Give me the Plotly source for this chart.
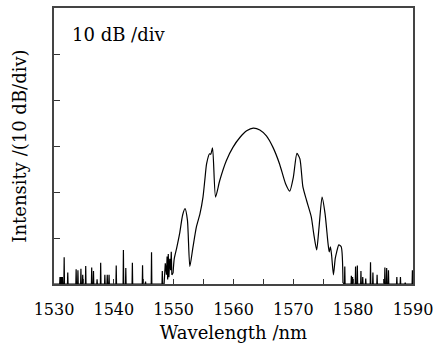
import plotly.graph_objects as go

# Noise spikes (wavelength nm, height in divs) - left side
noise_left_wl = [1531.0, 1531.2, 1531.4, 1531.7, 1532.3, 1533.7, 1534.0, 1534.5, 1534.8, 1535.3,
                 1536.3, 1536.6, 1537.2, 1537.8, 1538.5, 1538.9, 1539.2, 1540.4, 1541.6, 1542.0,
                 1543.1, 1544.8, 1545.3, 1546.3, 1548.1]
noise_left_h = [0.15, 0.15, 0.15, 0.58, 0.25, 0.32, 0.30, 0.33, 0.20, 0.39,
                0.36, 0.28, 0.10, 0.46, 0.20, 0.20, 0.20, 0.40, 0.74, 0.35,
                0.46, 0.41, 0.05, 0.69, 0.28]

# Noisy rising edge before the main curve
edge_wl = [1548.4, 1548.6, 1548.8, 1548.9, 1549.0, 1549.1, 1549.2, 1549.35, 1549.5, 1549.6, 1549.7]
edge_y = [0.0, 0.45, 0.2, 0.6, 0.1, 0.65, 0.15, 0.55, 0.3, 0.7, 0.2]

# Main spectrum curve (wavelength nm, intensity in divs)
main_wl = [1549.9, 1550.1, 1550.5, 1551.0, 1551.5, 1551.9, 1552.3, 1552.7, 1553.2, 1553.8,
           1554.4, 1554.9, 1555.2, 1555.5, 1556.0, 1556.2, 1556.5, 1557.0, 1557.7, 1558.8,
           1559.9, 1561.1, 1562.2, 1563.3, 1564.4, 1565.5, 1566.6, 1567.7, 1568.7, 1569.4,
           1570.0, 1570.6, 1571.1, 1571.6, 1572.2, 1573.0, 1573.4, 1573.9, 1574.3, 1574.8,
           1575.3, 1575.8, 1576.0, 1576.2, 1576.4, 1576.7, 1577.0, 1577.2, 1577.6, 1578.0,
           1578.3]
main_y = [0.24, 0.55, 0.78, 1.10, 1.50, 1.64, 1.39, 0.38, 0.78, 1.24,
          1.53, 1.89, 2.25, 2.61, 2.83, 2.82, 2.96, 1.89, 2.25, 2.68,
          2.97, 3.19, 3.33, 3.39, 3.35, 3.22, 2.97, 2.61, 2.18, 2.02,
          2.32, 2.84, 2.72, 2.11, 1.82, 1.46, 1.10, 0.74, 1.24, 1.89,
          1.53, 0.88, 0.70, 0.81, 0.62, 0.20, 0.55, 0.67, 0.85, 0.81,
          0.02]

# Noise spikes - right side
noise_right_wl = [1578.6, 1579.7, 1579.9, 1580.4, 1580.7, 1581.3, 1581.6, 1582.1, 1582.9, 1583.3,
                  1584.0, 1585.3, 1585.6, 1585.9, 1587.3, 1587.9, 1588.7, 1589.9]
noise_right_h = [0.38, 0.18, 0.15, 0.38, 0.40, 0.28, 0.15, 0.12, 0.47, 0.25,
                 0.20, 0.36, 0.35, 0.30, 0.15, 0.15, 0.03, 0.30]

x_ticks = [1530, 1540, 1550, 1560, 1570, 1580, 1590]


def spikes(wl, h):
    xs, ys = [], []
    for w, v in zip(wl, h):
        xs += [w - 0.05, w, w + 0.05]
        ys += [0.0, v, 0.0]
    return xs, ys


lx, ly = spikes(noise_left_wl, noise_left_h)
rx, ry = spikes(noise_right_wl, noise_right_h)
nx = [1530.0] + lx + edge_wl + [main_wl[0]]
ny = [0.0] + ly + edge_y + [main_y[0]]
rx = [main_wl[-1]] + rx + [1590.0]
ry = [main_y[-1]] + ry + [0.0]

line = dict(color="black", width=1.2)
fig = go.Figure()
fig.add_trace(go.Scatter(x=nx, y=ny, mode="lines", line=line, showlegend=False))
fig.add_trace(go.Scatter(x=main_wl, y=main_y, mode="lines",
                         line=dict(color="black", width=1.2, shape="spline", smoothing=0.6),
                         showlegend=False))
fig.add_trace(go.Scatter(x=rx, y=ry, mode="lines", line=line, showlegend=False))

font_family = "DejaVu Serif"
fs = 16
fs_title = 18
fig.update_layout(
    width=448, height=350,
    margin=dict(l=54, r=35, t=6, b=66),
    paper_bgcolor="white", plot_bgcolor="white",
    font=dict(family=font_family, size=fs, color="black"),
    xaxis=dict(range=[1530, 1590], tickvals=x_ticks, ticktext=[str(t) for t in x_ticks],
               ticks="inside", ticklen=5, tickwidth=1, tickcolor="#333",
               minor=dict(dtick=5, tick0=1530, ticks="inside", ticklen=5, tickcolor="#333"),
               showline=True, linecolor="#444", linewidth=1.5, mirror=True,
               showgrid=False, zeroline=False, ticklabelstandoff=10,
               tickfont=dict(family=font_family, size=fs),
               title=dict(text="Wavelength /nm", font=dict(family=font_family, size=fs_title), standoff=8)),
    yaxis=dict(range=[0, 6], dtick=1, tick0=0, ticks="inside", ticklen=6, tickwidth=1.2,
               tickcolor="#333", showticklabels=False,
               showline=True, linecolor="#444", linewidth=1.5, mirror=True,
               showgrid=False, zeroline=False,
               title=dict(text="Intensity /(10 dB/div)", font=dict(family=font_family, size=fs_title), standoff=21)),
    annotations=[dict(text="10 dB /div", xref="paper", yref="paper", x=0.044, y=0.903,
                      xanchor="left", yanchor="middle", showarrow=False,
                      font=dict(family=font_family, size=fs_title))],
)

fig.write_html("out.html")
